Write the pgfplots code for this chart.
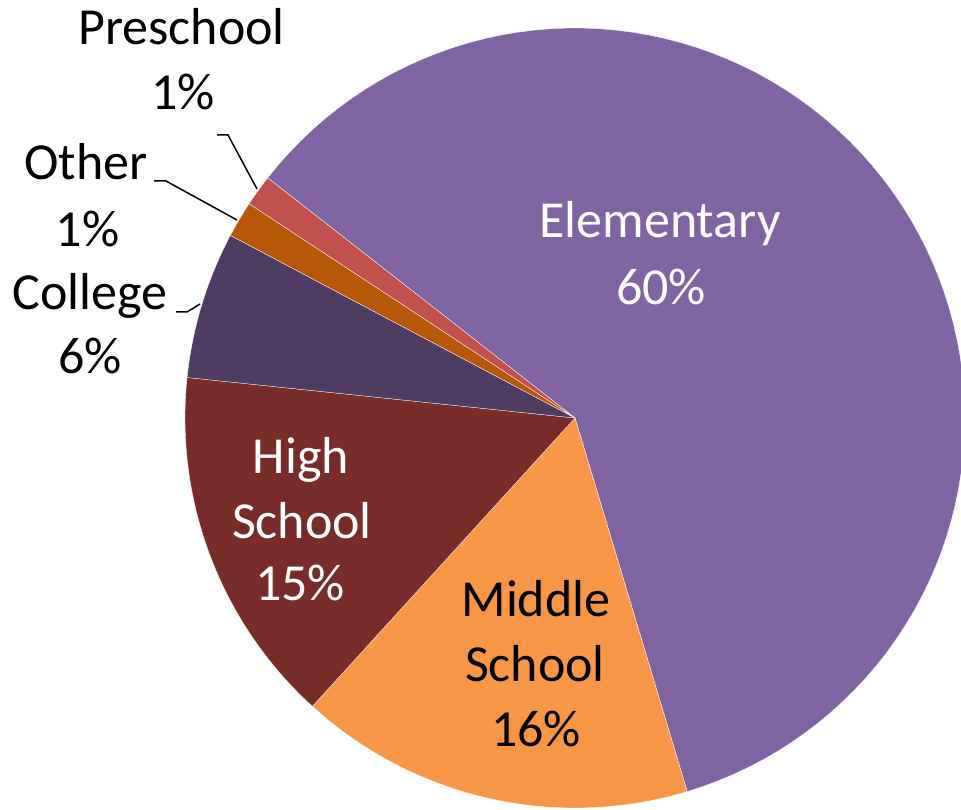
\documentclass[border=0pt]{standalone}
\usepackage{pgfplots}
\usepackage{pgfplotstable}
\pgfplotsset{compat=1.18}
\usepackage{fontspec}
\setmainfont{Carlito}

\definecolor{cElem}{HTML}{8064A2}
\definecolor{cMid}{HTML}{F79646}
\definecolor{cHigh}{HTML}{772C2A}
\definecolor{cColl}{HTML}{4D3B62}
\definecolor{cOther}{HTML}{B65708}
\definecolor{cPre}{HTML}{C0504D}

\pgfplotstableread{
label value
Elementary 59.8
Middle 16.4
High 14.9
College 6.1
Other 1.5
Preschool 1.3
}\piedata

\newcommand\pieR{390}
\newcommand\slice[2]{%
  \pgfplotstablegetelem{#1}{value}\of\piedata
  \pgfmathsetmacro\sliceEnd{\sliceStart-3.6*\pgfplotsretval}%
  \edef\doslice{\noexpand\addplot[fill=#2, draw=white, line width=0.15pt, domain=\sliceEnd:\sliceStart, samples=90]
    ({\pieR*cos(x)},{\pieR*sin(x)}) -- (axis cs:0,0) -- cycle;}%
  \doslice
  \global\let\sliceStart\sliceEnd
}

\begin{document}
\begin{tikzpicture}
\begin{axis}[
  scale only axis,
  width=480.5pt, height=404.5pt,
  xmin=-575, xmax=386, ymin=-391, ymax=418,
  hide axis,
  clip=true,
]
\gdef\sliceStart{142}
\slice{0}{cElem}
\slice{1}{cMid}
\slice{2}{cHigh}
\slice{3}{cColl}
\slice{4}{cOther}
\slice{5}{cPre}

% leader lines
\draw[black, line width=0.75pt] (axis cs:-358,283) -- (axis cs:-347,283) -- (axis cs:-318,229);
\draw[black, line width=0.75pt] (axis cs:-421,237) -- (axis cs:-409,237) -- (axis cs:-338,198);
\draw[black, line width=0.75pt] (axis cs:-399,106) -- (axis cs:-388,106) -- (axis cs:-375,114);

\tikzset{lbl/.style={anchor=base, inner sep=0pt, font=\fontsize{26}{31}\selectfont}}
\node[lbl] at (axis cs:-393.5,373) {Preschool};
\node[lbl] at (axis cs:-392,308) {1\%};
\node[lbl] at (axis cs:-489,238) {Other};
\node[lbl] at (axis cs:-487.5,171) {1\%};
\node[lbl] at (axis cs:-485,108) {College};
\node[lbl] at (axis cs:-485,45) {6\%};
\node[lbl, white] at (axis cs:85,180.3) {Elementary};
\node[lbl, white] at (axis cs:86,113) {60\%};
\node[lbl, white] at (axis cs:-274,-55) {High};
\node[lbl, white] at (axis cs:-273,-120) {School};
\node[lbl, white] at (axis cs:-275,-182) {15\%};
\node[lbl] at (axis cs:-39,-198.7) {Middle};
\node[lbl] at (axis cs:-40,-263.7) {School};
\node[lbl] at (axis cs:-39,-328.7) {16\%};
\end{axis}
\pgfresetboundingbox
\useasboundingbox (current axis.south west) rectangle (current axis.north east);
\end{tikzpicture}
\end{document}
